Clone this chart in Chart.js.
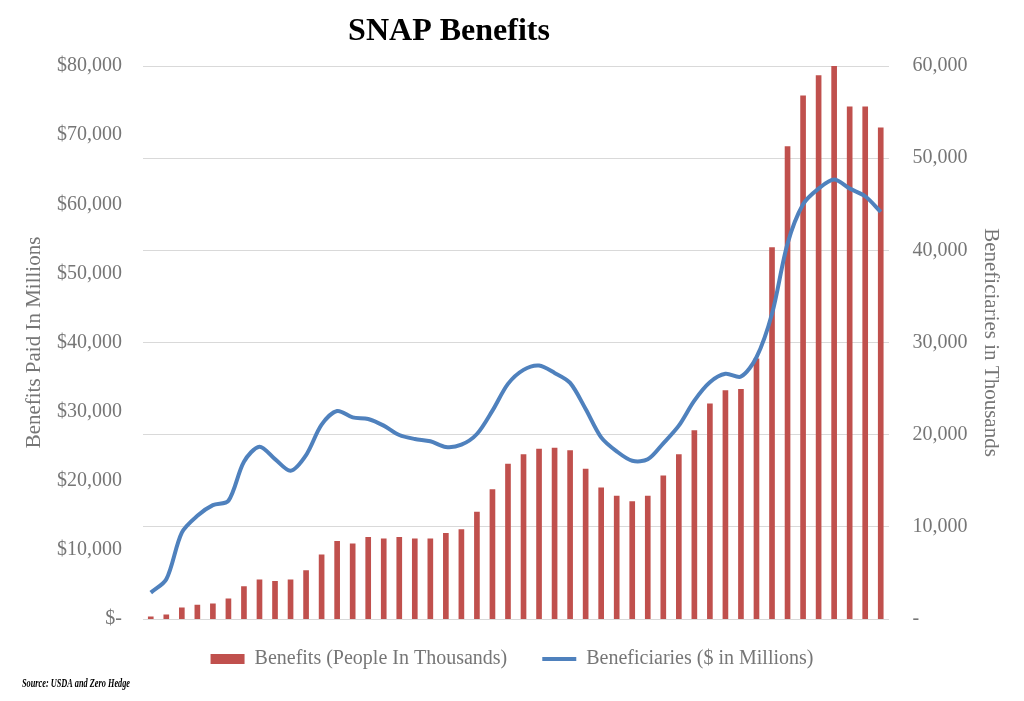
<!DOCTYPE html>
<html>
<head>
  <meta charset="UTF-8">
  <title>SNAP Benefits</title>
  <script src="https://cdn.jsdelivr.net/npm/chart.js@4.4.1/dist/chart.umd.min.js"></script>
  <style>
    body { margin: 0; background: #fff; }
    #wrap { width: 1024px; height: 701px; }
  </style>
</head>
<body>
<div id="wrap"><canvas id="chart"></canvas></div>

<script>
  // one entry per year, no labels shown on the x axis
  var years = [];
  for (var y = 1969; y <= 2016; y++) years.push(String(y));

  // benefits paid, $ millions (left axis)
  var benefits = [300, 600, 1600, 2000, 2200, 2900, 4700, 5650, 5450, 5650,
    7000, 9300, 11250, 10870, 11800, 11600, 11800, 11600, 11600, 12400,
    12950, 15460, 18740, 22420, 23770, 24590, 24740, 24350, 21690, 18990,
    17780, 17000, 17780, 20720, 23770, 27250, 31110, 33040, 33230, 37630,
    53720, 68360, 75700, 78600, 80000, 74100, 74100, 71060];

  // beneficiaries, thousands (right axis)
  var beneficiaries = [2860, 4310, 9380, 11200, 12350, 12830, 17070, 18700, 17350, 16090,
    17790, 21090, 22570, 21880, 21700, 20980, 19960, 19530, 19280, 18660,
    18910, 20070, 22610, 25510, 27030, 27500, 26700, 25620, 22790, 19710,
    18190, 17170, 17320, 19060, 20980, 23700, 25690, 26600, 26300, 28400,
    33120, 40730, 45000, 46700, 47680, 46700, 45870, 44170];

  var serif = '"Liberation Serif", "DejaVu Serif", serif';
  var grey = '#767676';

  // title and source note
  var textPlugin = {
    id: 'texts',
    afterDraw: function (chart) {
      var ctx = chart.ctx;
      ctx.save();
      ctx.fillStyle = '#000';
      ctx.textAlign = 'center';
      ctx.textBaseline = 'middle';
      ctx.font = 'bold 32px ' + serif;
      ctx.fillText('SNAP Benefits', 449, 32);
      ctx.textAlign = 'left';
      ctx.font = 'italic bold 13px ' + serif;
      ctx.fillText('Source: USDA and Zero Hedge', 22, 684, 108);
      ctx.restore();
    }
  };

  var ctx = document.getElementById('chart').getContext('2d');
  var chart = new Chart(ctx, {
    type: 'bar',
    data: {
      labels: years,
      datasets: [{
        type: 'line',
        label: 'Beneficiaries ($ in Millions)',
        data: beneficiaries,
        yAxisID: 'y1',
        borderColor: '#4F81BD',
        backgroundColor: '#4F81BD',
        borderWidth: 4,
        pointRadius: 0,
        tension: 0.3,
        pointStyle: 'line',
        order: 1
      }, {
        label: 'Benefits (People In Thousands)',
        data: benefits,
        yAxisID: 'y',
        backgroundColor: '#C0504D',
        borderWidth: 0,
        barThickness: 5,
        pointStyle: 'rect',
        order: 2
      }]
    },
    options: {
      responsive: true,
      maintainAspectRatio: false,
      animation: false,
      layout: { padding: { top: 66, bottom: 22, left: 0, right: 0 } },
      plugins: {
        title: { display: false },
        tooltip: { enabled: false },
        legend: {
          position: 'bottom',
          reverse: true,
          labels: {
            usePointStyle: true,
            pointStyleWidth: 34,
            boxHeight: 10,
            padding: 10,
            color: grey,
            font: { family: serif, size: 20 },
            generateLabels: function (c) {
              var items = Chart.defaults.plugins.legend.labels.generateLabels(c);
              items.forEach(function (it) {
                // widen the gap after the first entry
                if (it.datasetIndex === 1) it.text = it.text + '\u2003 ';
              });
              return items;
            }
          }
        }
      },
      scales: {
        x: {
          grid: { display: false },
          border: { display: false },
          ticks: { display: false },
          afterFit: function (s) { s.height = 20; }
        },
        y: {
          position: 'left',
          min: 0,
          max: 80000,
          grid: { display: false },
          border: { display: false },
          ticks: {
            stepSize: 10000,
            padding: 13,
            color: grey,
            font: { family: serif, size: 20 },
            callback: function (v) { return v === 0 ? '$-' : '$' + v.toLocaleString('en-US'); }
          },
          title: {
            display: true,
            text: 'Benefits Paid In Millions',
            color: grey,
            font: { family: serif, size: 21 },
            padding: { top: 22, bottom: 0 }
          },
          afterFit: function (s) { s.width = 143; }
        },
        y1: {
          position: 'right',
          min: 0,
          max: 60000,
          grid: { color: '#d9d9d9', drawTicks: false },
          border: { display: false },
          ticks: {
            stepSize: 10000,
            padding: 24,
            color: grey,
            font: { family: serif, size: 20 },
            callback: function (v) { return v === 0 ? '-' : v.toLocaleString('en-US'); }
          },
          title: {
            display: true,
            text: 'Beneficiaries in Thousands',
            color: grey,
            font: { family: serif, size: 21 },
            padding: { top: 21, bottom: 0 }
          },
          afterFit: function (s) { s.width = 135.5; }
        }
      }
    },
    plugins: [textPlugin]
  });
</script>
</body>
</html>
